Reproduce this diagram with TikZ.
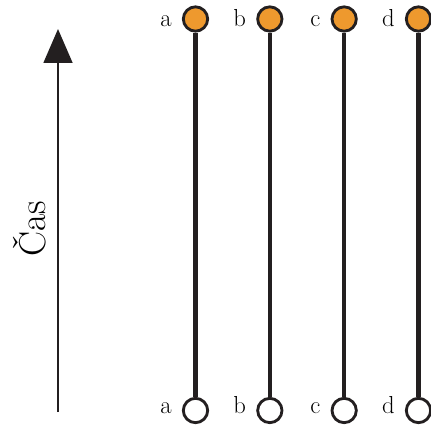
\documentclass[tikz,border=0pt]{standalone}
\usepackage{fontspec}
\usetikzlibrary{positioning,arrows.meta}
\definecolor{dotorange}{RGB}{238,153,46}
\definecolor{inkline}{RGB}{35,31,32}
\tikzset{
  dot/.style={circle,draw=inkline,line width=0.085cm,minimum size=0.73cm,inner sep=0pt},
  fulldot/.style={dot,fill=dotorange},
  emptydot/.style={dot,fill=white},
  dotlabel/.style={inner sep=0pt,text height=0.48cm,text depth=0pt,font=\fontsize{21}{24}\selectfont},
  worldline/.style={draw=inkline,line width=0.13cm},
}
\begin{document}
\begin{tikzpicture}[>=stealth]
\useasboundingbox (0,0) rectangle (12.93,12.72);
% time axis
\coordinate (t0) at (1.74,0.36);
\coordinate (t1) at (1.74,11.85);
\draw[inkline,line width=0.05cm,-{Triangle[length=1.02cm,width=0.87cm]}] (t0) -- (t1);
\node[rotate=90,anchor=base,font=\fontsize{32}{34}\selectfont] (cas) at (1.37,5.85) {Čas};
% particles
\foreach \p/\i in {a/0,b/1,c/2,d/3}{
  \node[fulldot] (top-\p) at (5.865+2.23*\i,12.15) {};
  \node[emptydot] (bot-\p) at (5.865+2.23*\i,0.405) {};
  \draw[worldline] (top-\p) -- (bot-\p);
  \node[dotlabel,left=0.3cm of top-\p] (ltop-\p) {\p};
  \node[dotlabel,left=0.3cm of bot-\p,yshift=0.15cm] (lbot-\p) {\p};
}
\end{tikzpicture}
\end{document}
